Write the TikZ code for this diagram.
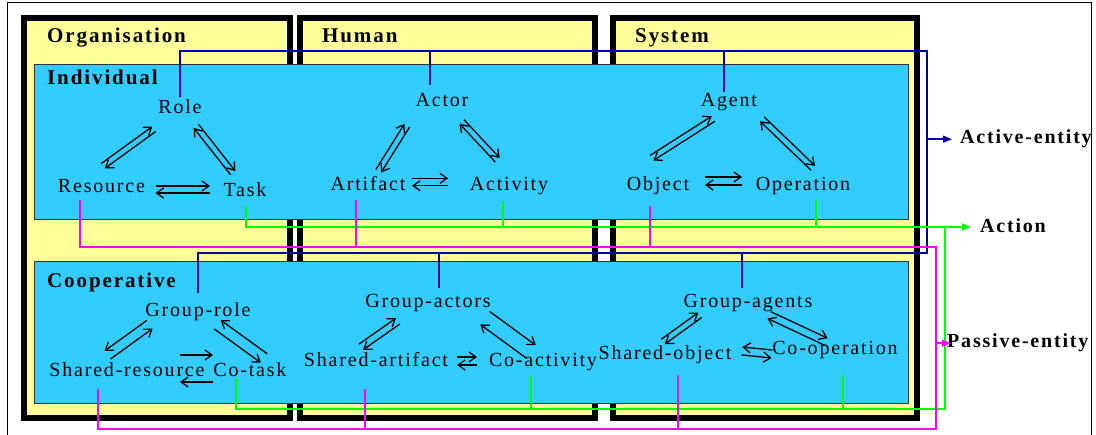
\documentclass[tikz,border=0pt]{standalone}
\usepackage{fontspec}
\setmainfont{Liberation Serif}[LetterSpace=9]
\usepackage{tikz}
\usetikzlibrary{arrows, arrows.meta, calc}

\definecolor{paleyellow}{HTML}{FFFF99}
\definecolor{skyblue}{HTML}{33CCFF}
\definecolor{activeblue}{HTML}{0000AA}
\definecolor{actiongreen}{HTML}{00FF00}
\definecolor{passivepink}{HTML}{FF00FF}

% two opposite arrows side by side, ends given relative to the base of each node
\newcommand{\pairarrow}[5][3pt]{%
  \coordinate (pa) at ($(#2.base)+#3$);
  \coordinate (pb) at ($(#4.base)+#5$);
  \draw[pair] ($(pa)!#1!90:(pb)$) -- ($(pb)!#1!-90:(pa)$);
  \draw[pair] ($(pb)!#1!90:(pa)$) -- ($(pa)!#1!-90:(pb)$);
}

\begin{document}
\begin{tikzpicture}[x=1pt, y=-1pt,
    lbl/.style={font=\fontsize{20}{23}\selectfont, inner sep=1pt, anchor=base},
    title/.style={font=\fontsize{21}{24}\selectfont\bfseries, inner sep=0pt, anchor=base west},
    kind/.style={font=\fontsize{20}{23}\selectfont\bfseries, inner sep=0pt, anchor=base west},
    column/.style={draw=black, fill=paleyellow, line width=6pt},
    layer/.style={draw=black!80, fill=skyblue, line width=0.8pt},
    pair/.style={-{Straight Barb[length=7pt,width=10pt]}, line width=1.3pt},
    active/.style={draw=activeblue, line width=1.6pt},
    action/.style={draw=actiongreen, line width=1.6pt},
    passive/.style={draw=passivepink, line width=1.6pt},
    tip/.style={-{Triangle[length=9pt,width=7pt]}}]

    \useasboundingbox (0,0) rectangle (1096,435);
    \draw[line width=1pt] (7,435) -- (7,3) -- (1091,3) -- (1091,435);

    % columns and layers
    \draw[column] (24,18) rectangle (290,418);
    \draw[column] (300,18) rectangle (595,418);
    \draw[column] (613,18) rectangle (917,418);
    \draw[layer] (34,64) rectangle (908,219);
    \draw[layer] (34,261) rectangle (908,403);

    \node[title] (organisation) at (47,43) {Organisation};
    \node[title] (human) at (322,43) {Human};
    \node[title] (system) at (635,43) {System};
    \node[title] (individual) at (47,85) {Individual};
    \node[title] (cooperative) at (47,288) {Cooperative};

    % individual
    \node[lbl] (role) at (180,114) {Role};
    \node[lbl] (resource) at (101.5,193) {Resource};
    \node[lbl] (task) at (245,197) {Task};
    \node[lbl] (actor) at (442,107) {Actor};
    \node[lbl] (artifact) at (368,191) {Artifact};
    \node[lbl] (activity) at (509,191) {Activity};
    \node[lbl] (agent) at (729,107) {Agent};
    \node[lbl] (object) at (658,191) {Object};
    \node[lbl] (operation) at (803,191) {Operation};

    % cooperative
    \node[lbl] (grouprole) at (198,317) {Group-role};
    \node[lbl] (sharedres) at (127,377) {Shared-resource};
    \node[lbl] (cotask) at (250,377) {Co-task};
    \node[lbl] (groupactors) at (428,308) {Group-actors};
    \node[lbl] (sharedart) at (376,367) {Shared-artifact};
    \node[lbl] (coactivity) at (543,367) {Co-activity};
    \node[lbl] (groupagents) at (748,308) {Group-agents};
    \node[lbl] (sharedobj) at (665,360) {Shared-object};
    \node[lbl] (cooperation) at (835,355) {Co-operation};

    \node[kind] (activeentity) at (960,144) {Active-entity};
    \node[kind] (action) at (980,233) {Action};
    \node[kind] (passiveentity) at (947,348) {Passive-entity};

    \pairarrow{resource}{(1.5,-27)}{role}{(-26,15)}
    \pairarrow{role}{(16,12)}{task}{(-12,-24)}
    \pairarrow[3.5pt]{resource}{(54,-3.5)}{task}{(-35,-7.5)}
    \pairarrow{actor}{(-35,18.5)}{artifact}{(10.5,-20)}
    \pairarrow{actor}{(19.7,14.7)}{activity}{(-11.5,-31)}
    \pairarrow[3.7pt]{artifact}{(44,-9)}{activity}{(-61,-9)}
    \pairarrow{agent}{(-15.7,11.7)}{object}{(-6.3,-33)}
    \pairarrow{agent}{(33,12)}{operation}{(10,-23)}
    \pairarrow[4pt]{object}{(47,-10)}{operation}{(-61,-10)}

    \pairarrow[-5pt]{grouprole}{(-48.3,7.5)}{sharedres}{(-19.5,-22)}
    \pairarrow[-5.5pt]{grouprole}{(19.5,7.5)}{cotask}{(14,-18.7)}
    \pairarrow[13.5pt]{sharedres}{(53,-8.5)}{cotask}{(-37,-8.5)}
    \pairarrow[3.5pt]{groupactors}{(-30,13)}{sharedart}{(-15,-20)}
    \pairarrow[8pt]{groupactors}{(57,10)}{coactivity}{(-12,-15.3)}
    \pairarrow[4pt]{sharedart}{(81,-6)}{coactivity}{(-66,-6)}
    \pairarrow{groupagents}{(-48,7)}{sharedobj}{(-2,-18.3)}
    \pairarrow[3.8pt]{groupagents}{(21,7)}{cooperation}{(-9,-13.3)}
    \pairarrow[-4pt]{sharedobj}{(77,-9)}{cooperation}{(-63,-1)}

    % active-entity
    \coordinate (activetop) at (927,51);
    \coordinate (activebot) at (927,253);
    \draw[active, shorten <=2pt, shorten >=9pt] (role.north) |- (activetop) -- (activebot) -| (grouprole.north);
    \draw[active, shorten <=8pt] ([xshift=-12pt]actor.north) -- ([xshift=-12pt]actor.north |- activetop);
    \draw[active, shorten <=1pt] ([xshift=-5pt]agent.north) -- ([xshift=-5pt]agent.north |- activetop);
    \draw[active, shorten <=6pt] ([xshift=11pt]groupactors.north) -- ([xshift=11pt]groupactors.north |- activebot);
    \draw[active, shorten <=6pt] ([xshift=-6pt]groupagents.north) -- ([xshift=-6pt]groupagents.north |- activebot);
    \draw[active, tip, shorten >=8pt] (activetop |- activeentity.west) -- (activeentity.west);

    % action
    \coordinate (actiontop) at (945,227);
    \coordinate (actionbot) at (945,409);
    \draw[action, shorten <=8pt] ([xshift=1pt]task.south) |- (actiontop) -- (actionbot) -| ([xshift=-14pt]cotask.south);
    \draw[action, shorten <=4pt] ([xshift=-6pt]activity.south) -- ([xshift=-6pt]activity.south |- actiontop);
    \draw[action, shorten <=4pt] ([xshift=13pt]operation.south) -- ([xshift=13pt]operation.south |- actiontop);
    \draw[action, shorten <=3pt] ([xshift=-12pt]coactivity.south) -- ([xshift=-12pt]coactivity.south |- actionbot);
    \draw[action, shorten <=15pt] ([xshift=8pt]cooperation.south) -- ([xshift=8pt]cooperation.south |- actionbot);
    \draw[action, tip, shorten >=9pt] (actiontop) -- (action.west |- actiontop);

    % passive-entity
    \coordinate (passivetop) at (936,247);
    \coordinate (passivebot) at (936,429);
    \draw[passive, shorten <=6pt, shorten >=11pt] ([xshift=-21.5pt]resource.south) |- (passivetop) -- (passivebot) -| ([xshift=-29pt]sharedres.south);
    \draw[passive, shorten <=8pt] ([xshift=-12pt]artifact.south) -- ([xshift=-12pt]artifact.south |- passivetop);
    \draw[passive, shorten <=10pt] ([xshift=-8pt]object.south) -- ([xshift=-8pt]object.south |- passivetop);
    \draw[passive, shorten <=21pt] ([xshift=-11pt]sharedart.south) -- ([xshift=-11pt]sharedart.south |- passivebot);
    \draw[passive, shorten <=10pt] ([xshift=13pt]sharedobj.south) -- ([xshift=13pt]sharedobj.south |- passivebot);
    \draw[passive, tip, shorten >=-4pt] (passivetop |- passiveentity.west) -- (passiveentity.west);
\end{tikzpicture}
\end{document}
